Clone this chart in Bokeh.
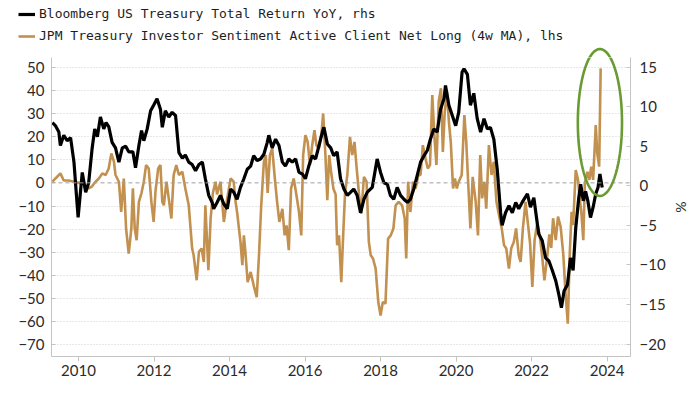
import numpy as np
from bokeh.plotting import figure
from bokeh.layouts import column
from bokeh.models import Range1d, LinearAxis, FixedTicker, Span, Legend, LegendItem, PolyAnnotation
from bokeh.embed import file_html
from bokeh.resources import INLINE

# Bloomberg US Treasury Total Return YoY (%), right axis
bbg_years = [
    2009.31, 2009.39, 2009.48, 2009.52, 2009.61, 2009.70, 2009.79, 2009.88, 2009.99, 2010.10,
    2010.19, 2010.27, 2010.36, 2010.43, 2010.50, 2010.58, 2010.67, 2010.73, 2010.80, 2010.89,
    2010.98, 2011.07, 2011.16, 2011.25, 2011.33, 2011.44, 2011.51, 2011.60, 2011.67, 2011.73,
    2011.82, 2011.91, 2011.99, 2012.08, 2012.17, 2012.22, 2012.30, 2012.39, 2012.48, 2012.57,
    2012.66, 2012.75, 2012.83, 2012.92, 2013.01, 2013.10, 2013.19, 2013.28, 2013.36, 2013.45,
    2013.54, 2013.58, 2013.67, 2013.76, 2013.85, 2013.94, 2014.03, 2014.11, 2014.20, 2014.29,
    2014.38, 2014.47, 2014.56, 2014.64, 2014.73, 2014.82, 2014.91, 2015.00, 2015.04, 2015.13,
    2015.22, 2015.31, 2015.40, 2015.48, 2015.57, 2015.66, 2015.75, 2015.84, 2015.93, 2016.01,
    2016.10, 2016.19, 2016.28, 2016.37, 2016.46, 2016.50, 2016.59, 2016.68, 2016.76, 2016.85,
    2016.94, 2017.03, 2017.12, 2017.21, 2017.29, 2017.38, 2017.47, 2017.56, 2017.65, 2017.78,
    2017.91, 2018.00, 2018.09, 2018.18, 2018.26, 2018.35, 2018.44, 2018.53, 2018.62, 2018.71,
    2018.79, 2018.88, 2018.97, 2019.06, 2019.15, 2019.24, 2019.32, 2019.41, 2019.50, 2019.59,
    2019.68, 2019.72, 2019.81, 2019.90, 2019.99, 2020.07, 2020.16, 2020.21, 2020.30, 2020.38,
    2020.47, 2020.56, 2020.65, 2020.74, 2020.83, 2020.91, 2021.00, 2021.09, 2021.18, 2021.22,
    2021.31, 2021.40, 2021.49, 2021.58, 2021.66, 2021.75, 2021.89, 2021.97, 2022.06, 2022.13,
    2022.19, 2022.28, 2022.37, 2022.46, 2022.55, 2022.64, 2022.72, 2022.79, 2022.86, 2022.95,
    2023.03, 2023.10, 2023.17, 2023.25, 2023.30, 2023.37, 2023.43, 2023.49, 2023.56, 2023.63,
    2023.70, 2023.76, 2023.81, 2023.87,
]
bbg_yoy = [
    8.0, 7.6, 6.8, 5.1, 6.4, 5.7, 6.1, 3.0, -4.0, 1.7,
    -0.8, 0.4, 4.7, 7.2, 6.2, 8.7, 7.2, 8.0, 7.5, 5.5,
    4.8, 3.0, 4.8, 5.0, 4.3, 4.3, 2.3, 5.1, 7.0, 5.7,
    7.2, 9.5, 10.2, 11.0, 9.7, 7.4, 9.5, 8.7, 9.3, 8.9,
    4.2, 3.5, 3.9, 3.0, 2.7, 1.9, 2.7, 3.0, 0.9, -1.2,
    -2.1, -2.9, -2.1, -1.2, -2.3, -2.9, -0.4, -0.8, -1.7, -0.2,
    0.9, 2.1, 2.5, 3.8, 3.2, 3.4, 4.0, 5.5, 6.4, 4.8,
    5.9, 5.1, 3.0, 2.5, 3.4, 3.0, 3.4, 1.7, 1.5, 0.9,
    2.5, 3.8, 3.4, 5.1, 6.8, 7.4, 5.3, 4.8, 3.8, 4.3,
    0.9, -0.4, -1.2, -0.8, -0.4, -1.2, -3.4, -1.7, -0.8, -0.2,
    3.4, 1.7, 0.4, 0.2, -1.2, -1.7, -0.2, -1.2, -1.7, -2.1,
    -1.7, -0.4, 1.3, 3.0, 3.8, 4.5, 5.9, 7.2, 6.8, 9.7,
    11.0, 12.7, 10.2, 8.9, 7.6, 9.3, 14.4, 14.8, 14.1, 10.2,
    11.7, 8.5, 6.8, 8.5, 7.2, 7.4, 5.9, 2.1, -3.4, -5.0,
    -3.4, -2.5, -3.4, -2.1, -2.9, -2.1, -1.0, -2.7, -1.5, -4.0,
    -6.1, -6.9, -9.1, -9.5, -10.7, -12.0, -13.7, -15.4, -13.3, -12.5,
    -9.1, -10.7, -5.3, -1.5, 0.2, -1.9, -0.7, -1.9, -4.0, -2.7,
    -1.0, -0.2, 1.5, -0.2,
]

# JPM Treasury Investor Sentiment Active Client Net Long (4w MA), left axis
jpm_years = [
    2009.31, 2009.39, 2009.52, 2009.61, 2009.74, 2009.88, 2010.01, 2010.14, 2010.27, 2010.36,
    2010.45, 2010.54, 2010.63, 2010.72, 2010.80, 2010.87, 2010.94, 2010.98, 2011.07, 2011.13,
    2011.20, 2011.26, 2011.33, 2011.40, 2011.44, 2011.49, 2011.54, 2011.60, 2011.67, 2011.73,
    2011.79, 2011.86, 2011.93, 2011.99, 2012.04, 2012.11, 2012.17, 2012.22, 2012.26, 2012.33,
    2012.39, 2012.46, 2012.52, 2012.59, 2012.66, 2012.75, 2012.83, 2012.92, 2013.01, 2013.05,
    2013.13, 2013.19, 2013.26, 2013.32, 2013.36, 2013.44, 2013.50, 2013.56, 2013.63, 2013.67,
    2013.76, 2013.85, 2013.94, 2014.03, 2014.11, 2014.16, 2014.20, 2014.29, 2014.34, 2014.38,
    2014.42, 2014.48, 2014.56, 2014.64, 2014.72, 2014.78, 2014.84, 2014.91, 2014.96, 2015.01,
    2015.07, 2015.13, 2015.20, 2015.26, 2015.32, 2015.40, 2015.46, 2015.51, 2015.57, 2015.63,
    2015.70, 2015.77, 2015.84, 2015.90, 2015.95, 2016.01, 2016.07, 2016.13, 2016.19, 2016.25,
    2016.30, 2016.37, 2016.44, 2016.48, 2016.54, 2016.59, 2016.64, 2016.69, 2016.75, 2016.81,
    2016.85, 2016.90, 2016.96, 2017.01, 2017.06, 2017.12, 2017.19, 2017.25, 2017.31, 2017.36,
    2017.43, 2017.49, 2017.56, 2017.63, 2017.69, 2017.74, 2017.80, 2017.87, 2017.94, 2018.00,
    2018.06, 2018.13, 2018.20, 2018.27, 2018.34, 2018.40, 2018.48, 2018.57, 2018.64, 2018.68,
    2018.73, 2018.79, 2018.86, 2018.93, 2019.00, 2019.06, 2019.12, 2019.19, 2019.25, 2019.31,
    2019.37, 2019.43, 2019.48, 2019.54, 2019.60, 2019.65, 2019.70, 2019.76, 2019.81, 2019.86,
    2019.92, 2019.97, 2020.02, 2020.07, 2020.15, 2020.22, 2020.27, 2020.32, 2020.38, 2020.44,
    2020.52, 2020.58, 2020.64, 2020.69, 2020.75, 2020.80, 2020.87, 2020.94, 2021.00, 2021.07,
    2021.13, 2021.21, 2021.27, 2021.33, 2021.40, 2021.46, 2021.53, 2021.59, 2021.66, 2021.71,
    2021.77, 2021.84, 2021.96, 2022.02, 2022.08, 2022.15, 2022.22, 2022.28, 2022.34, 2022.42,
    2022.47, 2022.52, 2022.57, 2022.64, 2022.70, 2022.77, 2022.84, 2022.90, 2022.96, 2023.01,
    2023.06, 2023.10, 2023.17, 2023.23, 2023.28, 2023.32, 2023.37, 2023.41, 2023.48, 2023.53,
    2023.58, 2023.63, 2023.70, 2023.74, 2023.79, 2023.83,
]
jpm_net_long = [
    0.5, 1.9, 4.1, 1.0, 1.0, 0.5, 0.0, -0.5, -2.4, -1.5,
    0.5, 1.9, 4.1, 3.4, 6.2, 12.7, 9.1, 3.4, 0.5, -12.6,
    1.9, -19.7, -30.6, -19.7, -2.4, -19.7, -24.8, -8.2, -4.3, 0.5,
    7.7, 6.2, -8.2, -16.9, -3.6, 6.2, 7.7, -8.2, -9.7, 0.5,
    -6.7, -15.4, 3.4, 7.7, 3.4, 4.8, -2.4, -9.7, -28.4, -31.3,
    -42.1, -29.8, -28.4, -34.2, -9.7, -37.8, -15.4, -4.3, 0.5, -5.0,
    0.5, -16.9, -6.7, 1.9, 0.5, -8.2, -12.6, -25.5, -35.6, -22.7,
    -29.8, -42.9, -38.5, -44.3, -49.4, -31.3, -9.7, 9.1, 12.0, -4.3,
    12.0, 14.9, 1.9, -8.2, -16.9, -11.2, -22.7, -18.4, -29.1, -2.4,
    1.9, -5.0, -12.6, -22.7, 12.0, 20.6, 17.7, 7.7, 16.3, 22.8,
    16.3, 14.9, 22.1, 30.0, 12.0, -7.5, 12.0, 4.8, -2.4, -5.0,
    -27.0, -22.7, -42.9, -22.7, -4.3, 3.4, 19.9, 12.0, 17.7, 7.7,
    -5.0, -13.3, 2.6, 0.5, -25.5, -31.3, -32.7, -37.1, -51.5, -57.3,
    -51.5, -52.2, -24.1, -22.7, -19.7, -9.7, -8.2, -9.7, -15.4, -32.7,
    0.5, -12.6, 0.5, -2.4, 3.4, 3.4, 16.3, 10.6, 6.2, 7.7,
    38.0, 19.2, 7.7, 35.1, 40.9, 13.4, 30.7, 39.4, 26.5, 17.7,
    -2.4, 1.9, -2.4, 0.5, 3.4, 29.3, 17.7, 0.5, -19.7, 2.6,
    -8.2, -22.7, 12.0, -6.7, 0.5, -11.2, 16.3, 3.4, 9.1, -8.2,
    -13.3, -19.7, -26.9, -28.4, -37.1, -28.4, -25.5, -19.7, -31.3, -34.2,
    -19.7, -8.2, -26.1, -45.0, -24.7, -17.5, -23.2, -31.8, -42.1, -30.9,
    -22.3, -28.1, -15.3, -24.7, -14.6, -19.0, -30.9, -47.9, -60.9, -30.9,
    -12.5, -18.3, 5.5, 1.3, -7.4, -13.2, -24.8, -0.1, 4.8, 1.3,
    7.0, 1.3, 25.0, 12.8, 7.0, 49.5,
]

left_ticks = [-70, -60, -50, -40, -30, -20, -10, 0, 10, 20, 30, 40, 50]
right_ticks = [-20, -15, -10, -5, 0, 5, 10, 15]
x_ticks = [2010, 2012, 2014, 2016, 2018, 2020, 2022, 2024]
label_black = "Bloomberg US Treasury Total Return YoY, rhs"
label_tan = "JPM Treasury Investor Sentiment Active Client Net Long (4w MA), lhs"

TAN = "#C2904F"
GREEN = "#6A9B33"
AXIS_GREY = "#c4c4c4"
LABEL_COLOR = "#2b2b2b"
TICK_FONT = "Lato"

W = 699
TOP_H = 57
MAIN_H = 393 - TOP_H

# main chart: frame x 51..630, y 57..356 on the page
p = figure(width=W, height=MAIN_H, output_backend="svg", toolbar_location=None, title=None,
           x_range=Range1d(2009.285, 2024.62), y_range=Range1d(-75.06, 54.2),
           min_border_left=51, min_border_right=W - 630, min_border_top=0,
           min_border_bottom=MAIN_H - 299)
p.extra_y_ranges = {"right": Range1d(-21.58, 16.23)}
p.outline_line_color = None
p.background_fill_color = "white"
p.border_fill_color = "white"

p.xgrid.visible = False
p.ygrid.ticker = FixedTicker(ticks=[t for t in left_ticks if t != 0])
p.ygrid.grid_line_color = "#cfcfcf"
p.ygrid.grid_line_dash = "1 2"
p.ygrid.grid_line_width = 1

p.add_layout(Span(location=0, dimension="width", line_color="#a0a0a0",
                  line_dash="4 3", line_width=1))

ly = p.yaxis[0]
ly.ticker = FixedTicker(ticks=left_ticks)
ly.major_tick_in = 4
ly.major_tick_out = 0
ly.minor_tick_line_color = None
ly.axis_line_color = AXIS_GREY
ly.major_tick_line_color = AXIS_GREY
ly.major_label_text_font = TICK_FONT
ly.major_label_text_font_size = "15px"
ly.major_label_text_color = LABEL_COLOR
ly.major_label_standoff = 7

bx = p.xaxis[0]
bx.ticker = FixedTicker(ticks=x_ticks)
bx.major_tick_in = 0
bx.major_tick_out = 5
bx.minor_tick_line_color = None
bx.axis_line_color = AXIS_GREY
bx.major_tick_line_color = AXIS_GREY
bx.major_label_text_font = TICK_FONT
bx.major_label_text_font_size = "15px"
bx.major_label_text_color = LABEL_COLOR
bx.major_label_standoff = 3

ry = LinearAxis(y_range_name="right", ticker=FixedTicker(ticks=right_ticks), axis_label="%")
ry.major_tick_in = 4
ry.major_tick_out = 0
ry.minor_tick_line_color = None
ry.axis_line_color = AXIS_GREY
ry.major_tick_line_color = AXIS_GREY
ry.major_label_text_font = TICK_FONT
ry.major_label_text_font_size = "15px"
ry.major_label_text_color = LABEL_COLOR
ry.major_label_standoff = 9
ry.axis_label_text_font = TICK_FONT
ry.axis_label_text_font_size = "14px"
ry.axis_label_text_font_style = "normal"
ry.axis_label_text_color = LABEL_COLOR
ry.axis_label_standoff = 4
p.add_layout(ry, "right")

r_tan = p.line(jpm_years, jpm_net_long, line_color=TAN, line_width=2.6)
r_blk = p.line(bbg_years, bbg_yoy, line_color="black", line_width=3.2, y_range_name="right")

# highlight ellipse (data units of the left axis) around the latest spike
cx, cy, ew, eh = 2023.81, 26.1, 1.17, 63.5
t = np.linspace(0, 2 * np.pi, 160)
ell_x = [float(v) for v in cx + ew / 2 * np.cos(t)]
ell_y = [float(v) for v in cy + eh / 2 * np.sin(t)]
p.add_layout(PolyAnnotation(xs=ell_x, ys=ell_y, fill_alpha=0, line_color=GREEN,
                            line_alpha=1, line_width=2.6))

# header strip above the frame (legend + top of the ellipse)
px_per_x = 579 / (2024.62 - 2009.285)
px_per_y = 299 / (54.2 + 75.06)
top = figure(width=W, height=TOP_H, output_backend="svg", toolbar_location=None, title=None,
             x_axis_type=None, y_axis_type=None, min_border=0,
             y_range=Range1d(54.2, 54.2 + TOP_H / px_per_y))
aligned = True
try:
    top.frame_align = False
    p.frame_align = False
    aligned = False
except Exception:
    aligned = True

if aligned:
    top.x_range = p.x_range
    legend_loc = (18 - 51, TOP_H - 43)
else:
    top.x_range = Range1d(2009.285 - 51 / px_per_x, 2024.62 + (W - 630) / px_per_x)
    legend_loc = (18, TOP_H - 43)

top.outline_line_color = None
top.xgrid.visible = False
top.ygrid.visible = False
top.background_fill_color = "white"
top.border_fill_color = "white"
top.add_layout(PolyAnnotation(xs=ell_x, ys=ell_y, fill_alpha=0, line_color=GREEN,
                              line_alpha=1, line_width=2.6))

# legend proxies: same series, drawn below this strip's visible range
k_blk = top.line(bbg_years, bbg_yoy, line_color="black", line_width=3.2)
k_tan = top.line(jpm_years, jpm_net_long, line_color=TAN, line_width=2.6)
legend = Legend(items=[
    LegendItem(label=label_black, renderers=[k_blk]),
    LegendItem(label=label_tan, renderers=[k_tan]),
], location=legend_loc, orientation="vertical", border_line_alpha=0,
    background_fill_alpha=0, padding=0, margin=0, spacing=7, glyph_height=14,
    glyph_width=17, label_height=14, label_standoff=4,
    label_text_font="DejaVu Sans Mono", label_text_font_size="13px",
    label_text_color="#1e1e1e")
top.add_layout(legend)

layout = column(top, p, spacing=0)
open("out.html", "w").write(file_html(layout, INLINE))
